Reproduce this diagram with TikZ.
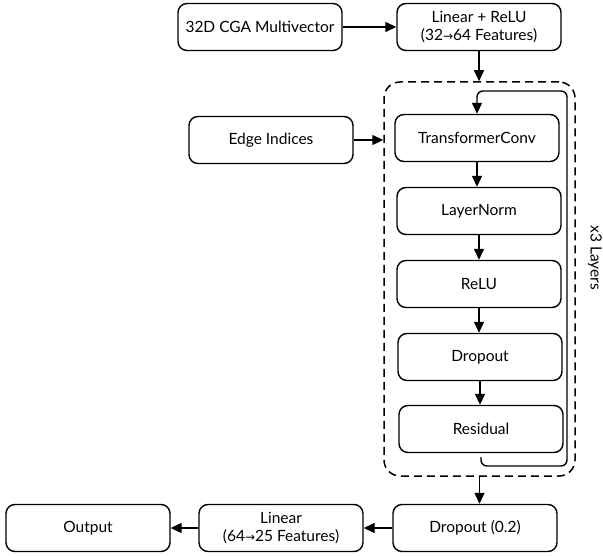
\documentclass[tikz,border=0pt]{standalone}
\usepackage{fontspec}
\setmainfont{Lato}
\newfontfamily\arrowfont{DejaVu Sans}
\usetikzlibrary{arrows.meta}

\newcommand{\featarrow}{{\arrowfont\fontsize{12}{12}\selectfont →}}

\tikzset{
  blk/.style={draw, rounded corners=9pt, line width=1.4pt, minimum width=164pt,
    minimum height=47pt, align=center, font=\fontsize{15.5}{18.5}\selectfont},
  flow/.style={-{Triangle[length=11pt,width=10pt]}, line width=1.4pt},
}

\begin{document}
\begin{tikzpicture}[x=1pt, y=-1pt]
  \useasboundingbox (0,0) rectangle (603,556);
  % input side
  \node[blk] (cga) at (260,27) {32D CGA Multivector};
  \node[blk] (lin1) at (479,27) {Linear + ReLU\\(32\featarrow64 Features)};
  \node[blk] (edge) at (271,140) {Edge Indices};
  % repeated layer block
  \node[draw, dashed, dash pattern=on 8pt off 5pt, line width=1.5pt, rounded corners=16pt,
    minimum width=191pt, minimum height=394pt] (layers) at (479.5,279) {};
  \node[blk] (tconv) at (477,138) {TransformerConv};
  \node[blk] (lnorm) at (479,211) {LayerNorm};
  \node[blk] (relu) at (479,284) {ReLU};
  \node[blk] (drop1) at (480,357) {Dropout};
  \node[blk] (res) at (481,429) {Residual};
  \node[rotate=-90, font=\fontsize{15.5}{18.5}\selectfont] (reps) at (595,258) {x3 Layers};
  % output side
  \node[blk] (drop2) at (475,528) {Dropout (0.2)};
  \node[blk] (lin2) at (281,528) {Linear\\(64\featarrow25 Features)};
  \node[blk] (out) at (88,528) {Output};
  \coordinate (loopA) at (567,466);
  \coordinate (loopB) at (567,91);
  % connectors
  \draw[flow] (cga) -- (lin1);
  \draw[flow] (lin1.south) -- (lin1.south |- layers.north);
  \draw[flow] (edge) -- (edge -| layers.west);
  \draw[flow] (tconv.south) -- (tconv.south |- lnorm.north);
  \draw[flow] (lnorm.south) -- (lnorm.south |- relu.north);
  \draw[flow] (relu.south) -- (relu.south |- drop1.north);
  \draw[flow] (drop1.south) -- (drop1.south |- res.north);
  \draw[flow, rounded corners=6pt] ([yshift=-4pt]res.south) |- (loopA) -- (loopB) -| (tconv.north);
  \draw[flow] (layers.south) -- (layers.south |- drop2.north);
  \draw[flow] (drop2) -- (lin2);
  \draw[flow] (lin2) -- (out);
\end{tikzpicture}
\end{document}
